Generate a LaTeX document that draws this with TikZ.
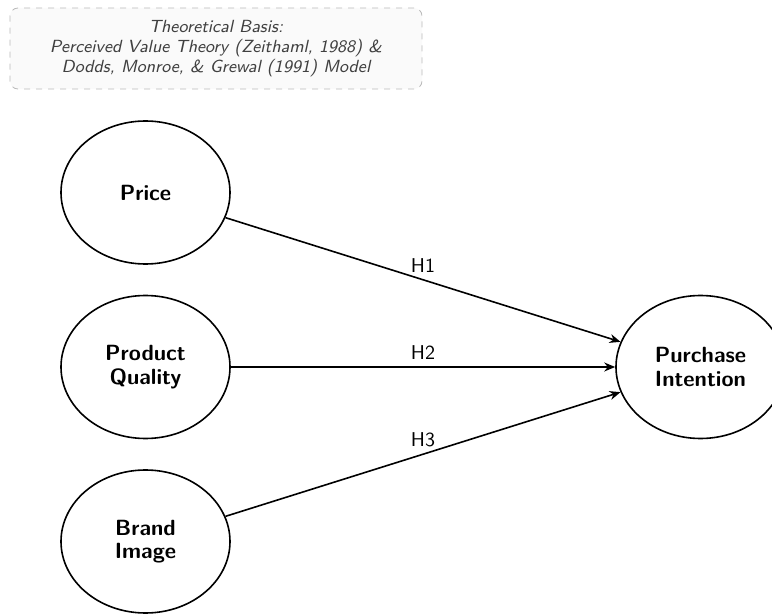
\documentclass[tikz,border=0pt]{standalone}
\usepackage{tikz}
\usetikzlibrary{shapes.geometric,arrows.meta}

\begin{document}
\begin{tikzpicture}[x=0.5pt, y=-0.5pt,
		construct/.style={ellipse, draw, thick, minimum width=84.5pt, minimum height=71.5pt,
			inner sep=0pt, align=center, font=\fontsize{11}{11.8}\selectfont\sffamily\bfseries},
		basis/.style={draw=gray!55, dashed, rounded corners=4pt, fill=gray!4, text=black!75,
			minimum width=206pt, minimum height=40.5pt, align=center,
			font=\fontsize{8.8}{10}\selectfont\sffamily\itshape},
		hyp/.style={thick, -{Stealth[length=5.5pt, width=4.5pt, inset=1.8pt]}},
		hyplabel/.style={midway, above, font=\sffamily\normalsize}]
			%%%%% START %%%%%
			
			\useasboundingbox (0, 0) rectangle (772, 615);
			
			\node[basis] (theory) at (216, 48.5) {Theoretical Basis:\\ Perceived Value Theory (Zeithaml, 1988) \&\\ Dodds, Monroe, \& Grewal (1991) Model};
			
			\node[construct] (price) at (145.5, 192.5) {Price};
			\node[construct] (quality) at (145.5, 367) {Product\\ Quality};
			\node[construct] (brand) at (145.5, 541.5) {Brand\\ Image};
			
			\node[construct] (intention) at (700.5, 367) {Purchase\\ Intention};
			
			\draw[hyp] (price) -- (intention) node[hyplabel] {H1};
			\draw[hyp] (quality) -- (intention) node[hyplabel] {H2};
			\draw[hyp] (brand) -- (intention) node[hyplabel] {H3};
			
			%%%%% END %%%%%
		\end{tikzpicture}
\end{document}
